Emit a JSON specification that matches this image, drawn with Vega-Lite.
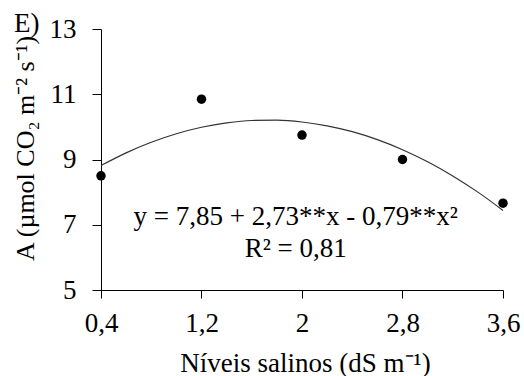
{
  "$schema": "https://vega.github.io/schema/vega-lite/v6.json",
  "width": 402,
  "height": 261,
  "autosize": {"type": "none"},
  "padding": {"left": 101, "top": 29, "right": 21, "bottom": 86},
  "background": "white",
  "config": {
    "view": {"stroke": null},
    "font": "Liberation Serif",
    "axis": {
      "grid": false,
      "domainColor": "black",
      "domainWidth": 1,
      "tickColor": "black",
      "tickWidth": 1,
      "labelFont": "Liberation Serif",
      "labelFontSize": 27,
      "labelColor": "black",
      "titleFont": "Liberation Serif",
      "titleFontSize": 27,
      "titleFontWeight": "normal",
      "titleColor": "black",
      "labelOverlap": false,
      "labelFlush": false
    }
  },
  "datasets": {
    "obs": [
      {"x": 0.4, "y": 8.5},
      {"x": 1.2, "y": 10.85},
      {"x": 2.0, "y": 9.75},
      {"x": 2.8, "y": 9.0},
      {"x": 3.6, "y": 7.66}
    ],
    "curve": [
      {"x": 0.4, "y": 8.816},
      {"x": 0.6, "y": 9.204},
      {"x": 0.8, "y": 9.528},
      {"x": 1.0, "y": 9.79},
      {"x": 1.2, "y": 9.988},
      {"x": 1.4, "y": 10.124},
      {"x": 1.6, "y": 10.196},
      {"x": 1.8, "y": 10.204},
      {"x": 2.0, "y": 10.15},
      {"x": 2.2, "y": 10.032},
      {"x": 2.4, "y": 9.852},
      {"x": 2.6, "y": 9.608},
      {"x": 2.8, "y": 9.3},
      {"x": 3.0, "y": 8.93},
      {"x": 3.2, "y": 8.496},
      {"x": 3.4, "y": 8.0},
      {"x": 3.6, "y": 7.44}
    ],
    "eq": [
      {"x": 1.95, "y": 6.99, "label": "y = 7,85 + 2,73**x  - 0,79**x²"},
      {"x": 1.95, "y": 6.01, "label": "R² = 0,81"}
    ],
    "panel": [
      {"x": 0.4, "y": 13, "label": "E)"}
    ]
  },
  "encoding": {
    "x": {
      "field": "x",
      "type": "quantitative",
      "scale": {"domain": [0.4, 3.6], "nice": false, "zero": false},
      "axis": {
        "values": [0.4, 1.2, 2, 2.8, 3.6],
        "labelExpr": "replace(format(datum.value, '.1~f'), '.', ',')",
        "tickSize": 8,
        "labelPadding": 12,
        "title": "Níveis salinos (dS m⁻¹)",
        "titleBaseline": "alphabetic",
        "titleAlign": "center",
        "titleX": 204,
        "titleY": 81
      }
    },
    "y": {
      "field": "y",
      "type": "quantitative",
      "scale": {"domain": [5, 13], "nice": false, "zero": false},
      "axis": {
        "values": [5, 7, 9, 11, 13],
        "tickSize": 9,
        "labelPadding": 16,
        "title": "A (µmol CO₂ m⁻² s⁻¹)",
        "titleFontSize": 26,
        "titleAngle": -90,
        "titleAlign": "center",
        "titleBaseline": "alphabetic",
        "titleX": -68,
        "titleY": 119
      }
    }
  },
  "layer": [
    {
      "data": {"name": "curve"},
      "mark": {"type": "line", "color": "#333333", "strokeWidth": 1.2, "interpolate": "monotone"}
    },
    {
      "data": {"name": "obs"},
      "mark": {"type": "point", "filled": true, "color": "black", "size": 90, "opacity": 1}
    },
    {
      "data": {"name": "eq"},
      "mark": {"type": "text", "fontSize": 27, "align": "center", "baseline": "alphabetic", "color": "black", "font": "Liberation Serif"},
      "encoding": {"text": {"field": "label", "type": "nominal"}}
    },
    {
      "data": {"name": "panel"},
      "mark": {"type": "text", "fontSize": 27, "align": "left", "baseline": "alphabetic", "color": "black", "dx": -87, "dy": 3, "font": "Liberation Serif"},
      "encoding": {"text": {"field": "label", "type": "nominal"}}
    }
  ]
}
